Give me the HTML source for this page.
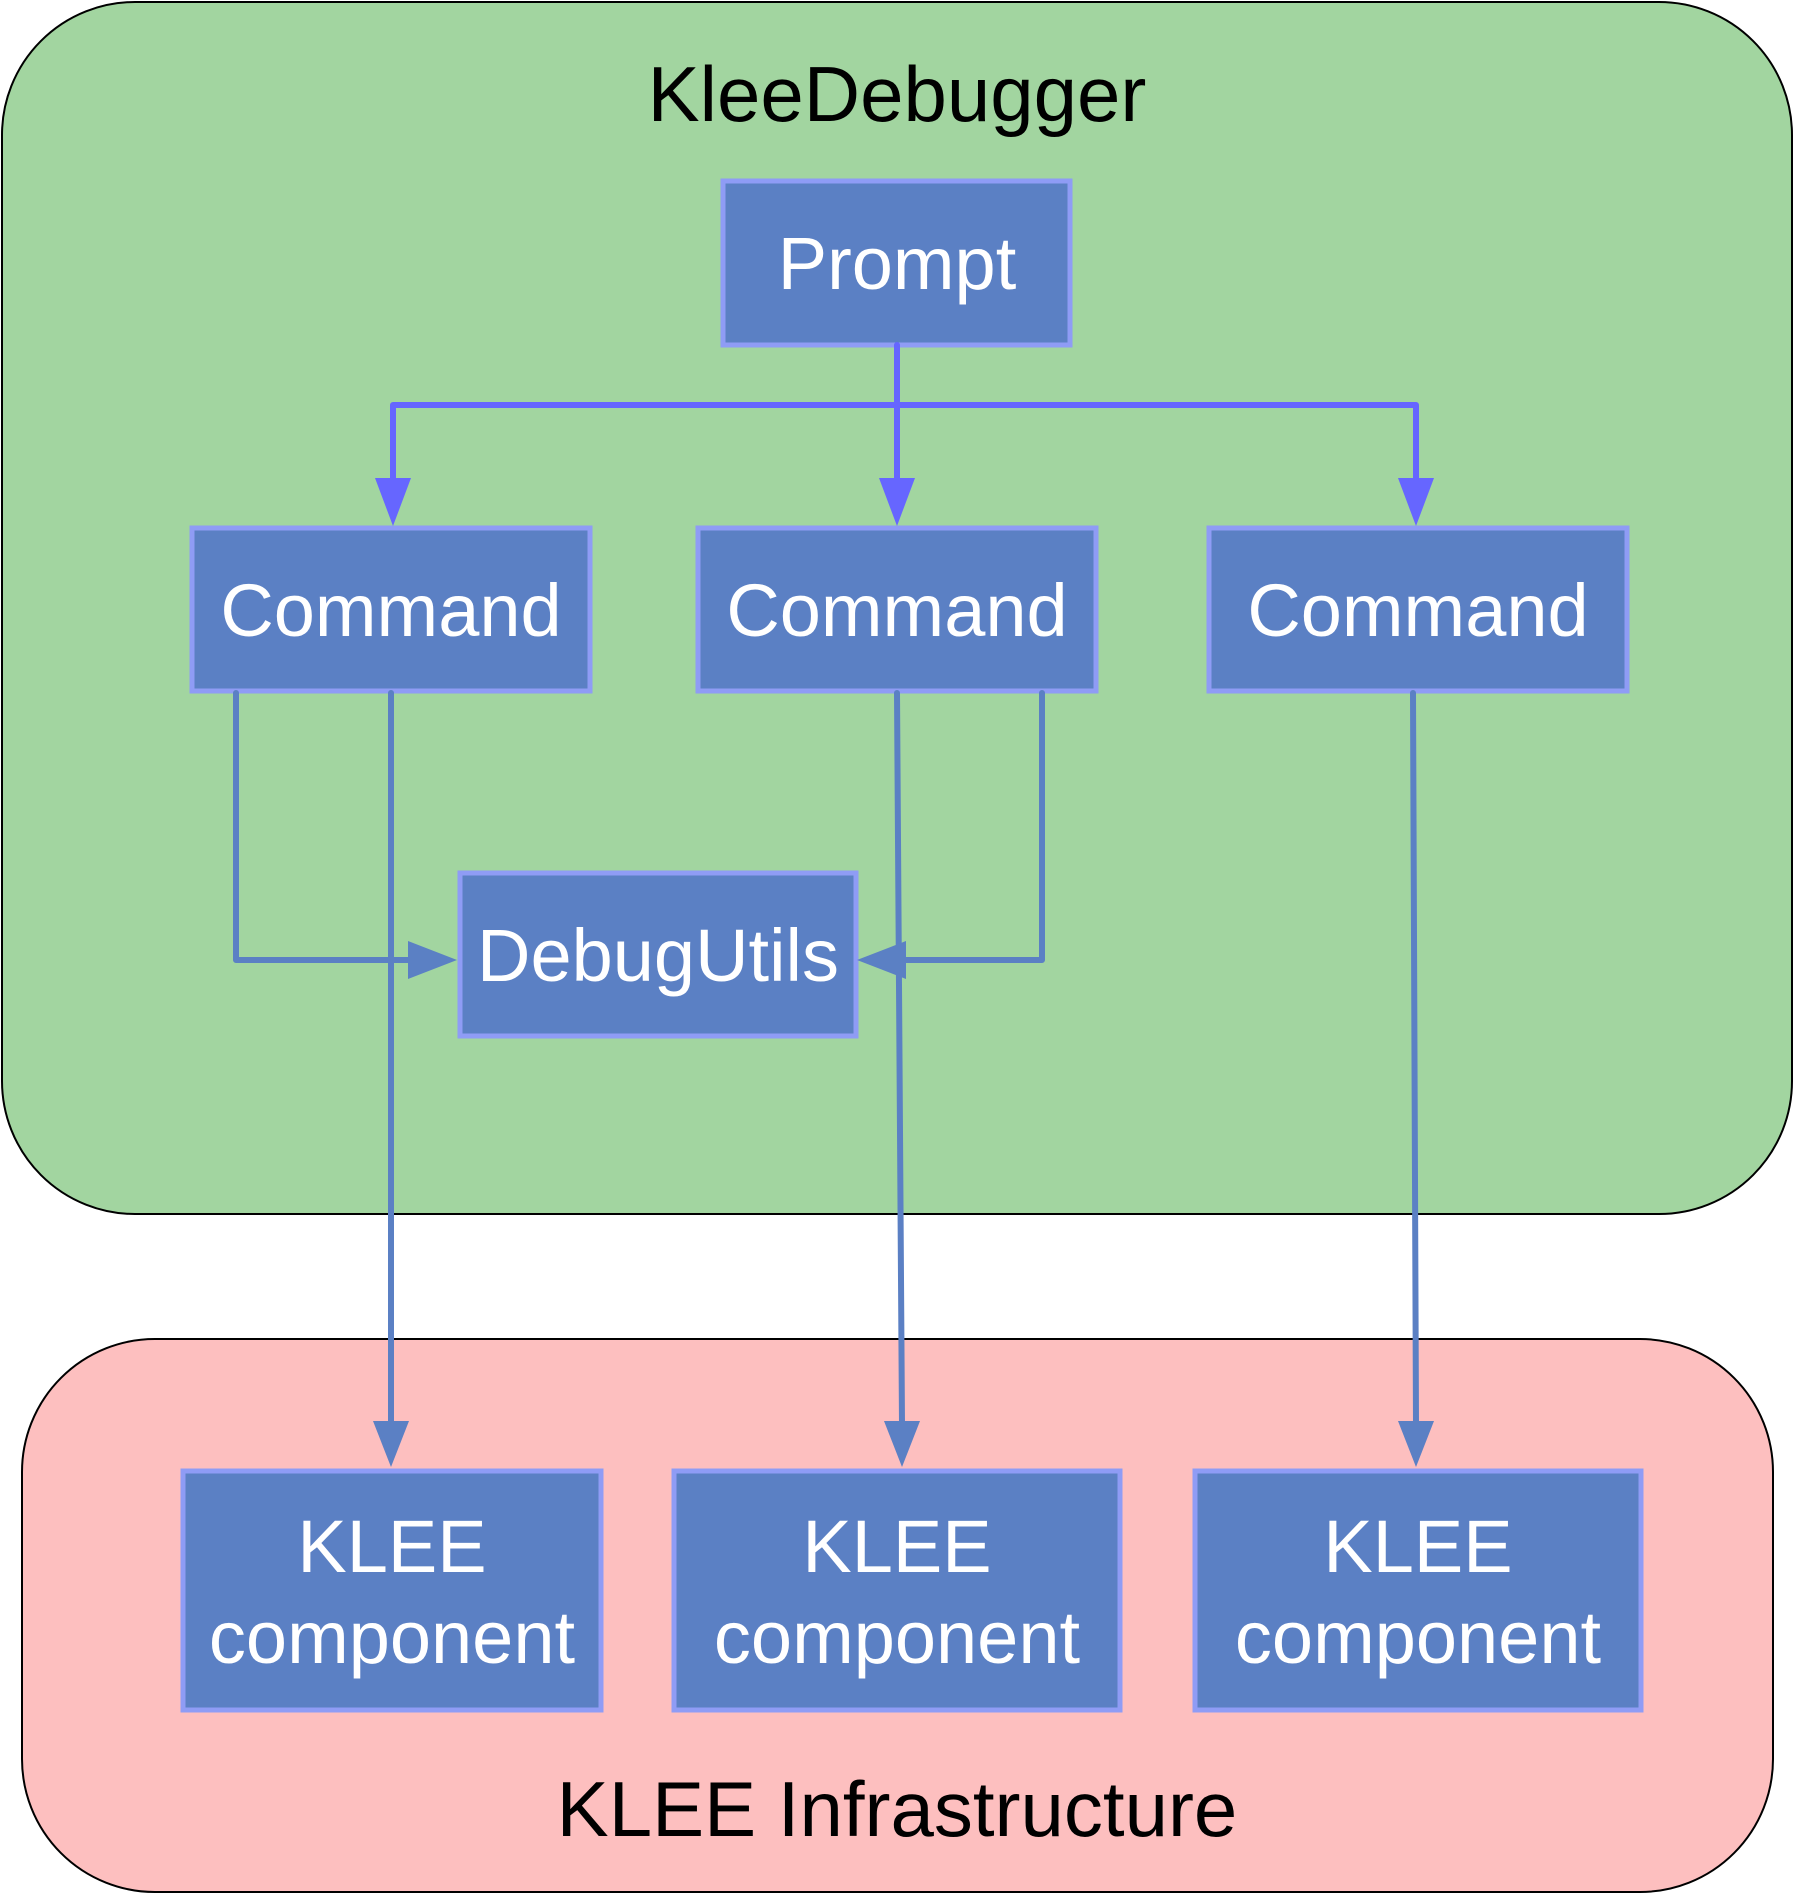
<!DOCTYPE html>
<html><head><meta charset="utf-8"><style>html,body{margin:0;padding:0;background:#fff}</style></head>
<body>
<svg width="1796" height="1896" viewBox="0 0 1796 1896" xmlns="http://www.w3.org/2000/svg" font-family="Liberation Sans, sans-serif">
<defs>
<marker id="a1" markerWidth="36" markerHeight="48" refX="18" refY="48" orient="auto" markerUnits="userSpaceOnUse" viewBox="0 0 36 48"><path d="M0,0 L18,48 L36,0 Z" fill="#6666ff" transform="rotate(-90 18 24) rotate(90 18 24)"/></marker>
</defs>
<rect x="2" y="2" width="1790" height="1212" rx="133" fill="#a2d5a0" stroke="#000" stroke-width="2"/>
<rect x="22" y="1339" width="1751" height="553" rx="133" fill="#fdbfbf" stroke="#000" stroke-width="2"/>
<text x="897" y="121" font-size="78" text-anchor="middle" fill="#000">KleeDebugger</text>
<text x="897" y="1836" font-size="78" text-anchor="middle" fill="#000">KLEE Infrastructure</text>
<g fill="#5b80c4" stroke="#8f9cf5" stroke-width="5">
<rect x="723" y="181" width="347" height="164"/>
<rect x="192" y="528" width="398" height="163"/>
<rect x="698" y="528" width="398" height="163"/>
<rect x="1209" y="528" width="418" height="163"/>
<rect x="460" y="873" width="396" height="163"/>
<rect x="183" y="1471" width="418" height="239"/>
<rect x="674" y="1471" width="446" height="239"/>
<rect x="1195" y="1471" width="446" height="239"/>
</g>
<g fill="none" stroke="#6666ff" stroke-width="6" stroke-linecap="round" stroke-linejoin="round">
<path d="M897,345 V480"/>
<path d="M393,480 V405 H1416 V480"/>
</g>
<g fill="#6666ff">
<path d="M375,478 L411,478 L393,526 Z"/>
<path d="M879,478 L915,478 L897,526 Z"/>
<path d="M1398,478 L1434,478 L1416,526 Z"/>
</g>
<g fill="none" stroke="#5b80c4" stroke-width="6" stroke-linecap="round" stroke-linejoin="round">
<path d="M236,693 V960 H412"/>
<path d="M1042,693 V960 H902"/>
<path d="M391,693 V1425"/>
<path d="M897,693 L902,1425"/>
<path d="M1413,693 L1416,1425"/>
</g>
<g fill="#5b80c4">
<path d="M408,941 L457,960 L408,979 Z"/>
<path d="M906,941 L857,960 L906,979 Z"/>
<path d="M373,1421 L409,1421 L391,1467 Z"/>
<path d="M884,1421 L920,1421 L902,1467 Z"/>
<path d="M1398,1421 L1434,1421 L1416,1467 Z"/>
</g>
<g fill="#fff" font-size="74" text-anchor="middle">
<text x="897" y="289">Prompt</text>
<text x="391" y="636">Command</text>
<text x="897" y="636">Command</text>
<text x="1418" y="636">Command</text>
<text x="658" y="981">DebugUtils</text>
<text x="392" y="1572">KLEE</text>
<text x="392" y="1663">component</text>
<text x="897" y="1572">KLEE</text>
<text x="897" y="1663">component</text>
<text x="1418" y="1572">KLEE</text>
<text x="1418" y="1663">component</text>
</g>
</svg>
</body></html>
